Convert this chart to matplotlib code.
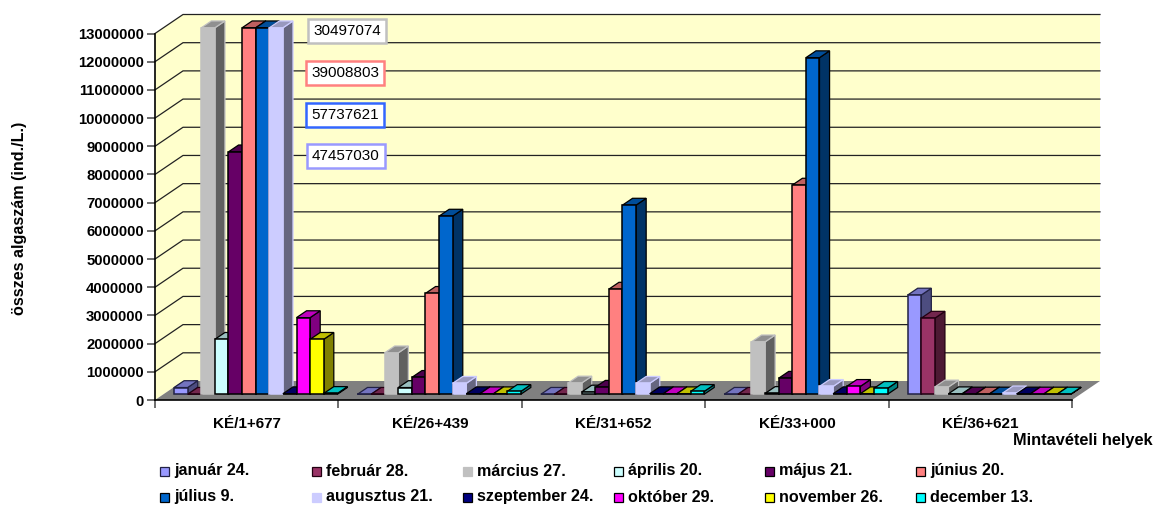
import matplotlib
matplotlib.use("Agg")
import matplotlib.pyplot as plt
from matplotlib.patches import Polygon, Rectangle
from matplotlib.colors import to_rgb

plt.rcParams["font.family"] = ["Liberation Sans", "DejaVu Sans"]

W, H = 1156, 505

sites = ["KÉ/1+677", "KÉ/26+439", "KÉ/31+652", "KÉ/33+000", "KÉ/36+621"]
months = ["január 24.", "február 28.", "március 27.", "április 20.", "május 21.", "június 20.",
          "július 9.", "augusztus 21.", "szeptember 24.", "október 29.", "november 26.", "december 13."]

jan = [240000, 0, 0, 0, 3520000]
feb = [0, 0, 0, 0, 2700000]
mar = [30497074, 1470000, 400000, 1860000, 260000]
apr = [1950000, 240000, 80000, 30000, 20000]
may = [8600000, 600000, 250000, 570000, 10000]
jun = [39008803, 3580000, 3730000, 7420000, 10000]
jul = [57737621, 6320000, 6710000, 11940000, 10000]
aug = [47457030, 390000, 390000, 280000, 50000]
sep = [20000, 20000, 20000, 20000, 10000]
oct_ = [2720000, 20000, 20000, 280000, 10000]
nov = [1950000, 20000, 20000, 20000, 10000]
dec = [30000, 100000, 100000, 210000, 10000]
series = [jan, feb, mar, apr, may, jun, jul, aug, sep, oct_, nov, dec]

colors = ["#9999ff", "#993366", "#c0c0c0", "#ccffff", "#660066", "#ff8080",
          "#0066cc", "#ccccff", "#000080", "#ff00ff", "#ffff00", "#00ffff"]
edges = ["#222244", "#220011", "#c0c0c0", "#000000", "#000000", "#000000",
         "#000000", "#ccccff", "#000000", "#000000", "#000000", "#000000"]

y_max = 13000000
y_ticks = list(range(0, y_max + 1, 1000000))

# front plane of the fake 3D box, in pixels of the picture
left, right, bottom, top = 155, 1072, 400, 33.5
depth_x = 28 / ((right - left) / 5)
depth_y = 19 / ((bottom - top) / y_max)
bar_w = 0.0742
bar_gap = 0.058
bar_front, bar_back = 0.3, 0.66


def shade(col, f):
    return tuple(c * f for c in to_rgb(col))


def poly(ax, pts, fc, ec="none", lw=0.0, z=1):
    ax.add_patch(Polygon(pts, closed=True, facecolor=fc, edgecolor=ec, linewidth=lw,
                         clip_on=False, zorder=z, joinstyle="miter"))


fig = plt.figure(figsize=(W / 100, H / 100), dpi=100)
ax = fig.add_axes([left / W, 1 - bottom / H, (right - left) / W, (bottom - top) / H])
ax.set_xlim(0, len(sites))
ax.set_ylim(0, y_max)
ax.patch.set_visible(False)
for s in ["top", "right"]:
    ax.spines[s].set_visible(False)
ax.spines["left"].set_linewidth(1.2)
ax.spines["bottom"].set_linewidth(1.2)
ax.spines["left"].set_zorder(6)
ax.spines["bottom"].set_zorder(6)

n = len(sites)
# walls and floor
poly(ax, [(0, 0), (depth_x, depth_y), (depth_x, y_max + depth_y), (0, y_max)], "#ffffcc", z=1)
poly(ax, [(depth_x, depth_y), (n + depth_x, depth_y), (n + depth_x, y_max + depth_y), (depth_x, y_max + depth_y)],
     "#ffffcc", z=1)
poly(ax, [(0, 0), (depth_x, depth_y), (n + depth_x, depth_y), (n, 0)], "#808080", z=2)
for v in y_ticks[1:]:
    ax.plot([0, depth_x, n + depth_x], [v, v + depth_y, v + depth_y], color="#222222", lw=0.9,
            clip_on=False, zorder=2)

# bars, left to right so that each one covers the side of the previous
for g in range(n):
    for k, vals in enumerate(series):
        v = min(vals[g], y_max)
        x0 = g + bar_gap + k * bar_w + bar_front * depth_x
        x1 = x0 + bar_w
        y0 = bar_front * depth_y
        y1 = y0 + v
        dx = (bar_back - bar_front) * depth_x
        dy = (bar_back - bar_front) * depth_y
        z = 3 + (g * 12 + k) * 0.001
        ec, c = edges[k], colors[k]
        poly(ax, [(x1, y0), (x1 + dx, y0 + dy), (x1 + dx, y1 + dy), (x1, y1)], shade(c, 0.5), ec, 0.9, z)
        poly(ax, [(x0, y1), (x0 + dx, y1 + dy), (x1 + dx, y1 + dy), (x1, y1)], shade(c, 0.75), ec, 0.9, z)
        poly(ax, [(x0, y0), (x1, y0), (x1, y1), (x0, y1)], c, ec, 1.1, z)

ax.set_yticks(y_ticks)
ax.set_yticklabels([str(v) for v in y_ticks], fontsize=10.7, fontweight="bold")
ax.tick_params(axis="y", length=6, width=1.2, pad=2, color="#555555")
ax.set_xticks(range(n + 1))
ax.set_xticklabels([""] * (n + 1))
ax.tick_params(axis="x", length=6, width=1.2, color="#555555")
ax.set_xticks([i + 0.5 for i in range(n)], minor=True)
ax.set_xticklabels(sites, minor=True, fontsize=11, fontweight="bold")
ax.tick_params(axis="x", which="minor", length=0, pad=12)

fig.text(20 / W, 1 - 218 / H, "összes algaszám (ind./L.)", rotation=90, ha="center", va="center",
         fontsize=11.6, fontweight="bold")
fig.text(1153 / W, 1 - 440 / H, "Mintavételi helyek", ha="right", va="center", fontsize=11.8,
         fontweight="bold")

# labels of the bars that run off the axis
for vals, lx, ly, ec in [(mar, 347, 31, "#c0c0c0"), (jun, 345, 73, "#ff8080"),
                         (jul, 345, 115, "#3366ff"), (aug, 346, 156, "#9999ff")]:
    fig.text(lx / W, 1 - ly / H, str(vals[0]), ha="center", va="center", fontsize=11, zorder=10,
             bbox=dict(boxstyle="square,pad=0.35", facecolor="white", edgecolor=ec, linewidth=1.8))

# legend in two rows
col_x = [160, 312, 463, 614, 765, 916]
row_y = [471, 497]
for i, name in enumerate(months):
    x = col_x[i % 6]
    y = row_y[i // 6]
    fig.add_artist(Rectangle((x / W, 1 - (y + 4.5) / H), 9 / W, 9 / H, transform=fig.transFigure,
                             facecolor=colors[i], edgecolor=edges[i], linewidth=0.9))
    fig.text((x + 14) / W, 1 - y / H, name, ha="left", va="center", fontsize=11.6, fontweight="bold")

fig.savefig("out.png", dpi=100)
